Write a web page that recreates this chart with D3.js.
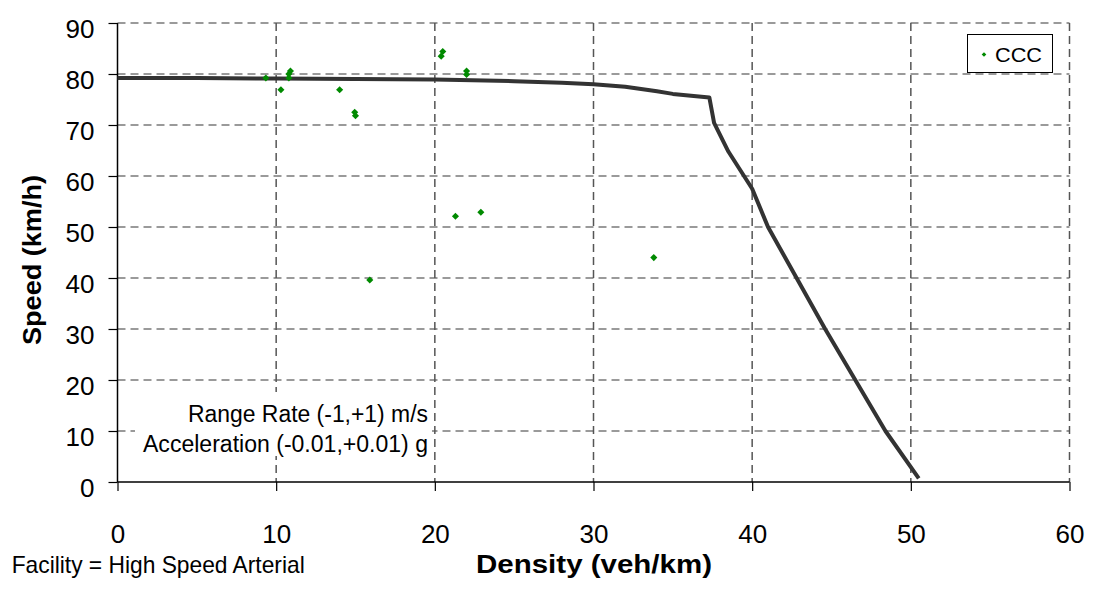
<!DOCTYPE html>
<html>
<head>
<meta charset="utf-8">
<script src="https://cdn.jsdelivr.net/npm/d3@7"></script>
<style>
  body { margin: 0; background: #fff; }
  svg { font-family: "Liberation Sans", Arial, sans-serif; }
</style>
</head>
<body>
<div class="display"></div>
<script>
// curve (model) values
const curveDensity = [0, 5, 10, 15, 20, 25, 28, 30, 32, 34, 35, 37.3, 37.6, 38.5, 40, 41, 42.8, 44.6, 46.5, 48.4, 50.5];
const curveSpeed = [79.2, 79.2, 79.1, 79.0, 78.9, 78.6, 78.3, 78.0, 77.5, 76.6, 76.1, 75.4, 70.4, 64.8, 57.5, 50, 40, 30, 20, 10, 0.7];

// CCC observations
const cccDensity = [9.35, 10.3, 10.8, 10.8, 10.9, 14.0, 14.95, 15.0, 20.4, 20.5, 22.0, 22.0, 21.3, 22.9, 15.9, 33.8];
const cccSpeed = [79.2, 76.9, 79.2, 80.0, 80.6, 76.9, 72.5, 71.8, 83.5, 84.4, 80.6, 79.9, 52.1, 52.9, 39.6, 44.0];

const xTicks = [0, 10, 20, 30, 40, 50, 60];
const yTicks = [0, 10, 20, 30, 40, 50, 60, 70, 80, 90];

const width = 1094;
const height = 592;
const plotLeft = 117.5, plotRight = 1069.5, plotTop = 23, plotBottom = 482;

const svg = d3.select('.display')
    .append('svg')
    .attr('width', width)
    .attr('height', height);

const xScale = d3.scaleLinear().domain([0, 60]).range([plotLeft, plotRight]);
const yScale = d3.scaleLinear().domain([0, 90]).range([plotBottom, plotTop]);

// gridlines
svg.append('g')
    .selectAll('line')
    .data(yTicks.filter(d => d > 0))
    .enter()
    .append('line')
    .attr('x1', plotLeft)
    .attr('x2', plotRight)
    .attr('y1', d => yScale(d))
    .attr('y2', d => yScale(d))
    .attr('stroke', '#7a7a7a')
    .attr('stroke-width', 1.5)
    .attr('stroke-dasharray', '8,5');

svg.append('g')
    .selectAll('line')
    .data(xTicks.filter(d => d > 0))
    .enter()
    .append('line')
    .attr('x1', d => xScale(d))
    .attr('x2', d => xScale(d))
    .attr('y1', plotTop)
    .attr('y2', plotBottom)
    .attr('stroke', '#555')
    .attr('stroke-width', 1.5)
    .attr('stroke-dasharray', '8,5');

// annotation background
svg.append('rect')
    .attr('x', 135)
    .attr('y', 392)
    .attr('width', 297)
    .attr('height', 64)
    .attr('fill', '#fff');

// axes
const xAxis = d3.axisBottom(xScale).tickValues(xTicks).tickSize(9).tickPadding(14);
const yAxis = d3.axisLeft(yScale).tickValues(yTicks).tickSize(9).tickPadding(14);

const gx = svg.append('g')
    .attr('transform', `translate(0, ${plotBottom})`)
    .call(xAxis);
const gy = svg.append('g')
    .attr('transform', `translate(${plotLeft}, 0)`)
    .call(yAxis);

[gx, gy].forEach(g => {
    g.select('.domain').attr('stroke', '#000').attr('stroke-width', 1.5);
    g.selectAll('.tick line').attr('stroke', '#000').attr('stroke-width', 1.2);
    g.selectAll('.tick text')
        .attr('font-family', '"Liberation Sans", Arial, sans-serif')
        .attr('font-size', 26)
        .attr('fill', '#000');
});
gy.select('.domain').attr('d', `M0,${plotBottom}V${plotTop}`);
gx.select('.domain').attr('d', `M${plotLeft},0H${plotRight}`);
gx.selectAll('.tick text').attr('y', 60.7).attr('dy', null);
gy.selectAll('.tick text').attr('y', 14.4).attr('dy', null);

// curve
const line = d3.line()
    .x(d => xScale(d[0]))
    .y(d => yScale(d[1]));

svg.append('path')
    .datum(curveDensity.map((d, i) => [d, curveSpeed[i]]))
    .attr('d', line)
    .attr('fill', 'none')
    .attr('stroke', '#333')
    .attr('stroke-width', 4)
    .attr('stroke-linejoin', 'round');

// points
const diamond = d3.symbol().type(d3.symbolDiamond2).size(32);
svg.append('g')
    .selectAll('path')
    .data(cccDensity.map((d, i) => [d, cccSpeed[i]]))
    .enter()
    .append('path')
    .attr('d', diamond)
    .attr('transform', d => `translate(${xScale(d[0])}, ${yScale(d[1])})`)
    .attr('fill', '#008a00');

// legend
const legend = svg.append('g');
legend.append('rect')
    .attr('x', 967.5)
    .attr('y', 34.5)
    .attr('width', 85)
    .attr('height', 38)
    .attr('fill', '#fff')
    .attr('stroke', '#000')
    .attr('stroke-width', 1);
legend.append('path')
    .attr('d', d3.symbol().type(d3.symbolDiamond2).size(14))
    .attr('transform', 'translate(984, 54.5)')
    .attr('fill', '#008a00');
legend.append('text')
    .attr('x', 995)
    .attr('y', 61.7)
    .attr('font-size', 20)
    .attr('textLength', 47)
    .attr('lengthAdjust', 'spacingAndGlyphs')
    .text('CCC');

// annotation
svg.append('text')
    .attr('x', 188)
    .attr('y', 421.7)
    .attr('font-size', 23)
    .attr('textLength', 240)
    .attr('lengthAdjust', 'spacingAndGlyphs')
    .text('Range Rate (-1,+1) m/s');
svg.append('text')
    .attr('x', 143)
    .attr('y', 452.3)
    .attr('font-size', 23)
    .attr('textLength', 285)
    .attr('lengthAdjust', 'spacingAndGlyphs')
    .text('Acceleration (-0.01,+0.01) g');

// titles
svg.append('text')
    .attr('transform', `translate(41, 345) rotate(-90)`)
    .attr('font-size', 26)
    .attr('font-weight', 'bold')
    .attr('textLength', 170)
    .attr('lengthAdjust', 'spacingAndGlyphs')
    .text('Speed (km/h)');

svg.append('text')
    .attr('x', 476)
    .attr('y', 573)
    .attr('font-size', 25)
    .attr('font-weight', 'bold')
    .attr('textLength', 236)
    .attr('lengthAdjust', 'spacingAndGlyphs')
    .text('Density (veh/km)');

svg.append('text')
    .attr('x', 11.7)
    .attr('y', 573)
    .attr('font-size', 24)
    .attr('textLength', 293)
    .attr('lengthAdjust', 'spacingAndGlyphs')
    .text('Facility = High Speed Arterial');
</script>
</body>
</html>
